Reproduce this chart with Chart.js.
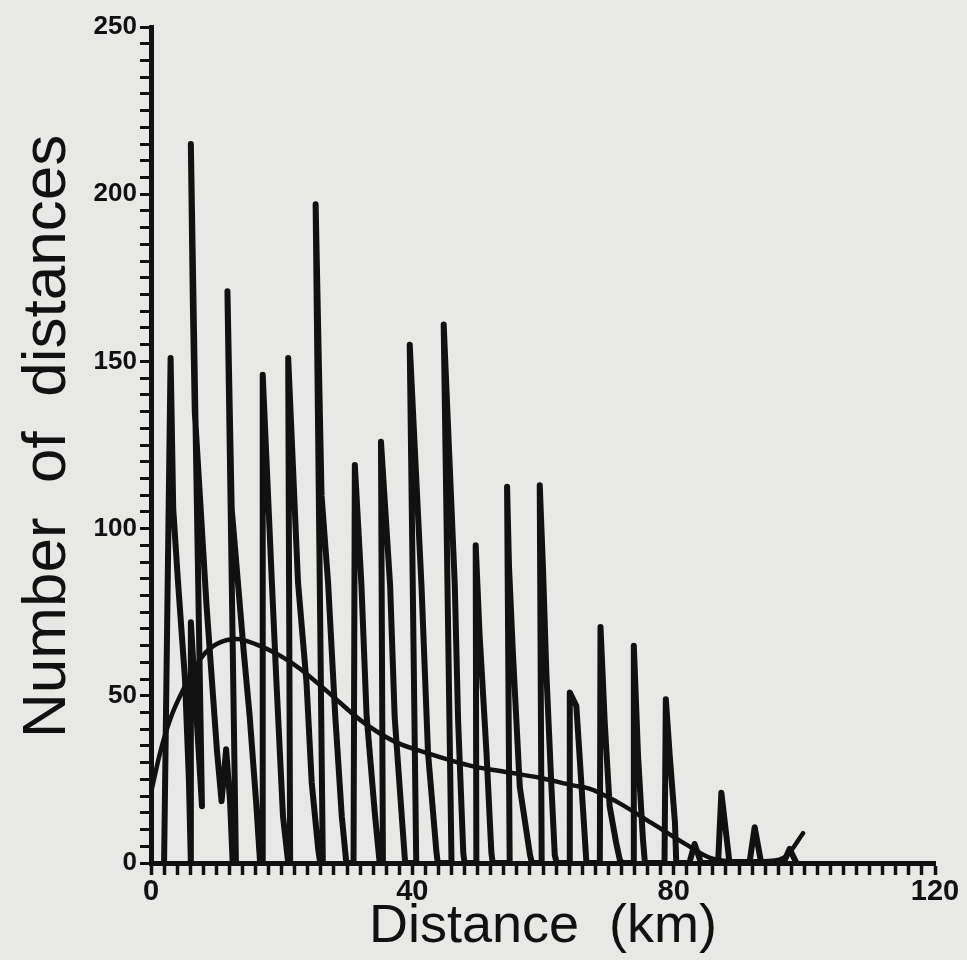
<!DOCTYPE html>
<html>
<head>
<meta charset="utf-8">
<script src="https://cdn.jsdelivr.net/npm/chart.js@4.4.1/dist/chart.umd.min.js"></script>
<style>
  body { margin: 0; background: #e8e8e6; }
  #wrap { width: 967px; height: 960px; position: relative; }
</style>
</head>
<body>
<div id="wrap"><canvas id="dist-chart"></canvas></div>
<script>
// Histogram of distances (km)
var spikeKm = [
  2.0, 3.0, 3.4, 4.1, 5.2, 5.8, 6.1, 6.1, 7.8, 6.1, 6.4, 6.7, 8.5, 10.1, 10.8,
  11.5, 12.1, 12.5, 13.0, 11.7, 12.35, 13.3, 14.2, 15.1, 16.1, 16.7,
  17.0, 17.1, 18.5, 19.2, 20.2, 21.0,
  21.3, 21.0, 22.5, 23.8, 24.6, 25.6, 25.9,
  26.3, 25.2, 26.1, 27.1, 28.2, 29.2, 29.9,
  31.0, 31.2, 32.2, 33.0, 34.3, 35.0,
  35.5, 35.2, 36.6, 37.3, 38.4, 38.9,
  40.6, 39.6, 41.4, 42.4, 43.7, 43.9,
  46.0, 44.8, 46.5, 47.0, 47.8, 48.0,
  49.8, 49.7, 50.3, 51.35, 52.1, 52.3,
  54.9, 54.5, 54.8, 55.4, 56.45, 58.0, 58.3,
  59.8, 59.5, 60.0, 60.5, 61.3, 61.8, 62.1,
  64.0, 64.1, 65.1, 65.6, 66.65,
  68.7, 68.8, 69.45, 70.2, 71.2, 71.75, 72.1,
  73.8, 73.9, 74.55, 75.3, 75.6,
  78.6, 78.8, 79.4, 80.2, 80.4,
  82.4, 83.2, 84.2,
  86.8, 87.3, 88.55,
  91.6, 92.4, 93.4,
  96.8, 97.75, 98.8
];
var spikeCount = [
  0, 151, 106, 85, 55, 25, 0, 72, 17, 215, 168, 135, 77, 33.5, 18.5,
  34, 18.5, 0, 0, 171, 106, 84, 63, 44, 18, 0,
  0, 146, 84, 54, 14, 0,
  0, 151, 84, 54, 24, 4, 0,
  0, 197, 110, 84, 44, 14, 0,
  0, 119, 83.5, 44, 14, 0,
  0, 126, 83, 43.5, 13.5, 0,
  0, 155, 83, 33, 3, 0,
  0, 161, 83, 43, 3, 0,
  0, 95, 68, 33, 3, 0,
  0, 112.5, 88.5, 62.5, 22.7, 2.5, 0,
  0, 113, 88, 57.5, 22.5, 2.4, 0,
  0, 51, 47, 32, 0,
  0, 70.6, 42, 17, 6, 1, 0,
  0, 65, 32, 7, 0,
  0, 49, 32, 12, 0,
  0, 5.7, 0,
  0, 21, 0,
  0, 10.7, 0,
  0, 4.2, 0
];

// Smooth fitted curve
var fitKm = [0, 1.4, 2.9, 4.9, 7.95, 10.05, 13.1, 16.2, 20.2, 22.8, 27.1, 32.2,
  37.3, 42.4, 49.3, 54.4, 59.5, 64.6, 67.2, 71.4, 76.6, 81.7, 85.8, 90.1, 94.7,
  97.25, 99.8];
var fitCount = [21, 33, 42.8, 51.7, 62, 65.5, 67, 65.3, 61.5, 58.1, 51.1, 42.5,
  36.3, 32.8, 28.9, 27.2, 25.5, 23.2, 22.2, 18.2, 12, 5.8, 1.4, 0.5, 0.6,
  2.1, 8.9];

// Axis ticks
var xMajor = 40, xStep = 2;
var yMajor = 50, yStep = 5;

function toPoints(xs, ys) {
  var pts = [];
  for (var i = 0; i < xs.length; i++) {
    pts.push({ x: xs[i], y: ys[i] });
  }
  return pts;
}

var ink = "#111";
var ctx = document.getElementById("dist-chart").getContext("2d");
var dist_chart = new Chart(ctx, {
  type: "scatter",
  data: {
    datasets: [
      {
        label: "Distances",
        data: toPoints(spikeKm, spikeCount),
        showLine: true,
        borderColor: ink,
        borderWidth: 6,
        pointRadius: 0,
        borderJoinStyle: "round",
        borderCapStyle: "round",
      },
      {
        label: "Fit",
        data: toPoints(fitKm, fitCount),
        showLine: true,
        borderColor: ink,
        borderWidth: 4.5,
        pointRadius: 0,
        cubicInterpolationMode: "monotone",
        borderCapStyle: "round",
      },
    ],
  },
  options: {
    responsive: true,
    maintainAspectRatio: false,
    animation: false,
    layout: { padding: { top: 27, right: 32, left: 0, bottom: 0 } },
    plugins: { legend: { display: false }, tooltip: { enabled: false } },
    scales: {
      x: {
        type: "linear",
        min: 0,
        max: 120,
        afterFit: function (scale) { scale.height = 97; },
        ticks: {
          stepSize: xStep,
          autoSkip: false,
          maxRotation: 0,
          padding: 0,
          color: ink,
          font: { family: "Liberation Sans", size: 29, weight: "bold" },
          callback: function (v) { return v % xMajor === 0 ? v : ""; },
        },
        grid: {
          drawOnChartArea: false,
          tickLength: 12,
          tickWidth: 3.5,
          tickColor: ink,
        },
        border: { display: true, width: 5, color: ink },
        title: {
          display: true,
          text: "Distance  (km)",
          color: ink,
          font: { family: "Liberation Sans", size: 54 },
          padding: { top: 0, bottom: 0 },
        },
      },
      y: {
        min: 0,
        max: 250,
        afterFit: function (scale) { scale.width = 151; },
        ticks: {
          stepSize: yStep,
          autoSkip: false,
          padding: 3,
          color: ink,
          font: { family: "Liberation Sans", size: 26, weight: "bold" },
          callback: function (v) { return v % yMajor === 0 ? v : ""; },
        },
        grid: {
          drawOnChartArea: false,
          tickLength: 11,
          tickWidth: 3,
          tickColor: ink,
        },
        border: { display: true, width: 5, color: ink },
        title: {
          display: true,
          text: " Number  of  distances",
          color: ink,
          font: { family: "Liberation Sans", size: 62 },
          padding: { top: 11, bottom: 0 },
        },
      },
    },
  },
});
</script>
</body>
</html>
